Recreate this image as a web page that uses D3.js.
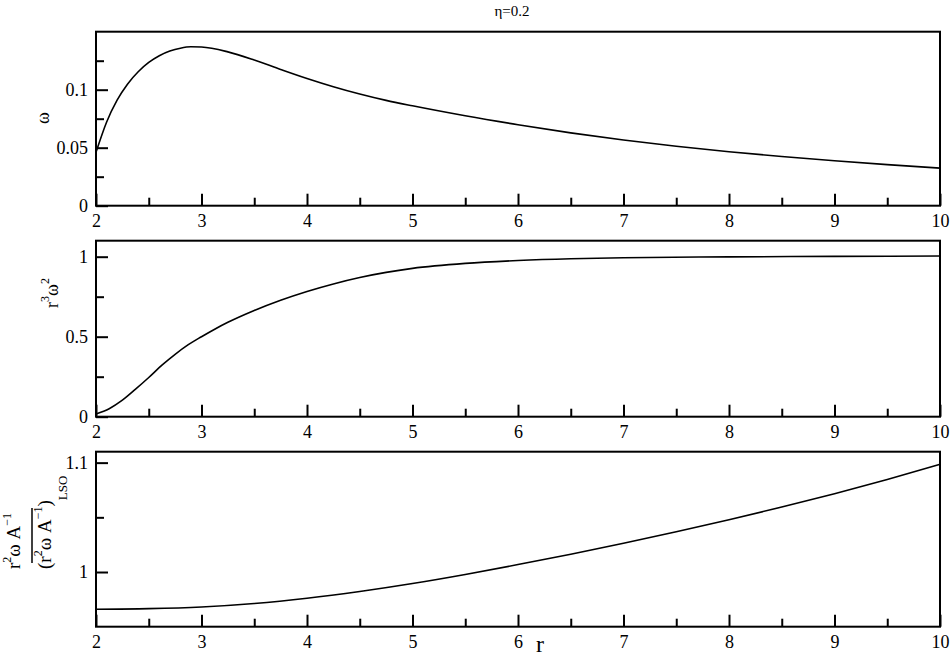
<!DOCTYPE html>
<html>
<head>
<meta charset="utf-8">
<script src="https://cdn.jsdelivr.net/npm/d3@7"></script>
<style>
  body { margin: 0; background: #fff; }
  text { font-family: "Liberation Serif", "Times New Roman", serif; fill: #000; }
</style>
</head>
<body>
<script>
// omega(r)
const omegaR = [2, 2.1, 2.2, 2.3, 2.4, 2.5, 2.6, 2.7, 2.8, 2.9, 3, 3.25, 3.5, 3.75, 4, 4.25, 4.5, 4.75, 5, 5.5, 6, 6.5, 7, 7.5, 8, 8.5, 9, 9.5, 10];
const omega = [0.046, 0.072, 0.091, 0.105, 0.1155, 0.1235, 0.1293, 0.1333, 0.1358, 0.137, 0.1368, 0.1326, 0.1256, 0.1175, 0.1097, 0.1026, 0.0963, 0.0908, 0.0861, 0.0775, 0.0698, 0.0628, 0.0566, 0.0512, 0.0465, 0.0424, 0.0387, 0.0354, 0.0324];

// r^3 omega^2
const keplerR = [2, 2.125, 2.25, 2.375, 2.5, 2.625, 2.75, 2.875, 3, 3.125, 3.25, 3.5, 3.75, 4, 4.25, 4.5, 4.75, 5, 5.5, 6, 6.5, 7, 8, 9, 10];
const kepler = [0.017, 0.05, 0.103, 0.172, 0.245, 0.322, 0.39, 0.45, 0.5, 0.547, 0.59, 0.664, 0.728, 0.783, 0.83, 0.87, 0.902, 0.927, 0.958, 0.976, 0.987, 0.993, 0.999, 1.002, 1.004];

// normalised r^2 omega A^-1
const ratioR = [2, 2.5, 3, 3.5, 4, 4.5, 5, 5.5, 6, 6.5, 7, 7.5, 8, 8.5, 9, 9.5, 10];
const ratio = [0.966, 0.9665, 0.968, 0.9712, 0.976, 0.9822, 0.9895, 0.9978, 1.0068, 1.0163, 1.0263, 1.0368, 1.0478, 1.0594, 1.0716, 1.0846, 1.0985];

const xTicks = [2, 3, 4, 5, 6, 7, 8, 9, 10];
const xMinorTicks = [2.5, 3.5, 4.5, 5.5, 6.5, 7.5, 8.5, 9.5];
const omegaTicks = [0, 0.05, 0.1];
const omegaMinorTicks = [0.025, 0.075, 0.125];
const keplerTicks = [0, 0.5, 1];
const keplerMinorTicks = [0.25, 0.75];
const ratioTicks = [1, 1.1];
const ratioMinorTicks = [1.05];

const width = 952;
const height = 656;
const left = 96;
const right = 940;
const serif = "'Liberation Serif', 'Times New Roman', serif";

const svg = d3.select("body")
  .append("svg")
  .attr("width", width)
  .attr("height", height);

const x = d3.scaleLinear().domain([2, 10]).range([left, right]);

const panels = [
  { top: 31.7, bottom: 205.7, domain: [0, 0.15], r: omegaR, v: omega, ticks: omegaTicks, minor: omegaMinorTicks },
  { top: 240.7, bottom: 416.7, domain: [0, 1.1], r: keplerR, v: kepler, ticks: keplerTicks, minor: keplerMinorTicks },
  { top: 451.7, bottom: 626.7, domain: [0.95, 1.11], r: ratioR, v: ratio, ticks: ratioTicks, minor: ratioMinorTicks }
];

function styleAxis(g) {
  g.select(".domain").remove();
  g.selectAll("line").attr("stroke", "#000").attr("stroke-width", 2);
  g.selectAll("text")
    .attr("fill", "#000")
    .style("font-family", serif)
    .style("font-size", "18px");
}

panels.forEach(p => {
  const y = d3.scaleLinear().domain(p.domain).range([p.bottom, p.top]);

  // major and minor ticks on x, pointing inward
  svg.append("g")
    .attr("transform", `translate(0,${p.bottom})`)
    .call(d3.axisBottom(x).tickValues(xTicks).tickFormat(d3.format("d"))
      .tickSizeInner(-12).tickSizeOuter(0).tickPadding(9))
    .call(styleAxis);
  svg.append("g")
    .attr("transform", `translate(0,${p.bottom})`)
    .call(d3.axisBottom(x).tickValues(xMinorTicks).tickFormat("")
      .tickSizeInner(-8).tickSizeOuter(0))
    .call(styleAxis);

  svg.append("g")
    .attr("transform", `translate(${left},0)`)
    .call(d3.axisLeft(y).tickValues(p.ticks).tickFormat(d => String(d))
      .tickSizeInner(-12).tickSizeOuter(0).tickPadding(8))
    .call(styleAxis);
  svg.append("g")
    .attr("transform", `translate(${left},0)`)
    .call(d3.axisLeft(y).tickValues(p.minor).tickFormat("")
      .tickSizeInner(-8).tickSizeOuter(0))
    .call(styleAxis);

  // frame
  svg.append("rect")
    .attr("x", left)
    .attr("y", p.top)
    .attr("width", right - left)
    .attr("height", p.bottom - p.top)
    .attr("fill", "none")
    .attr("stroke", "#000")
    .attr("stroke-width", 2);

  const line = d3.line()
    .x(d => x(d[0]))
    .y(d => y(d[1]))
    .curve(d3.curveMonotoneX);

  svg.append("path")
    .datum(d3.zip(p.r, p.v))
    .attr("d", line)
    .attr("fill", "none")
    .attr("stroke", "#000")
    .attr("stroke-width", 1.6);
});

// title and x label
svg.append("text")
  .attr("x", 512)
  .attr("y", 16)
  .attr("text-anchor", "middle")
  .style("font-size", "15px")
  .text("η=0.2");

svg.append("text")
  .attr("x", 540)
  .attr("y", 652)
  .attr("text-anchor", "middle")
  .style("font-size", "24px")
  .text("r");

// y labels, rotated
svg.append("text")
  .attr("transform", "translate(49,118) rotate(-90)")
  .attr("text-anchor", "middle")
  .style("font-size", "18px")
  .text("ω");

const midLabel = svg.append("text")
  .attr("transform", "translate(58,293) rotate(-90)")
  .attr("text-anchor", "middle")
  .style("font-size", "18px");
midLabel.append("tspan").text("r");
midLabel.append("tspan").style("font-size", "12px").attr("dy", -9).text("3");
midLabel.append("tspan").attr("dy", 9).text("ω");
midLabel.append("tspan").style("font-size", "12px").attr("dy", -9).text("2");

// fraction label for the bottom panel
const frac = svg.append("g").attr("transform", "translate(0,569) rotate(-90)");

const num = frac.append("text")
  .attr("x", 0)
  .attr("y", 20)
  .style("font-size", "19px");
num.append("tspan").text("r");
num.append("tspan").style("font-size", "12px").attr("dy", -9).text("2");
num.append("tspan").attr("dy", 9).text("ω A");
num.append("tspan").style("font-size", "12px").attr("dy", -9).text("−1");

frac.append("line")
  .attr("x1", 6)
  .attr("x2", 61)
  .attr("y1", 32)
  .attr("y2", 32)
  .attr("stroke", "#000")
  .attr("stroke-width", 1.5);

const den = frac.append("text")
  .attr("x", 0)
  .attr("y", 51)
  .style("font-size", "19px");
den.append("tspan").text("(r");
den.append("tspan").style("font-size", "12px").attr("dy", -9).text("2");
den.append("tspan").attr("dy", 9).text("ω A");
den.append("tspan").style("font-size", "12px").attr("dy", -9).text("−1");
den.append("tspan").attr("dy", 9).text(")");
den.append("tspan").style("font-size", "13px").attr("dy", 16).text("LSO");
</script>
</body>
</html>
